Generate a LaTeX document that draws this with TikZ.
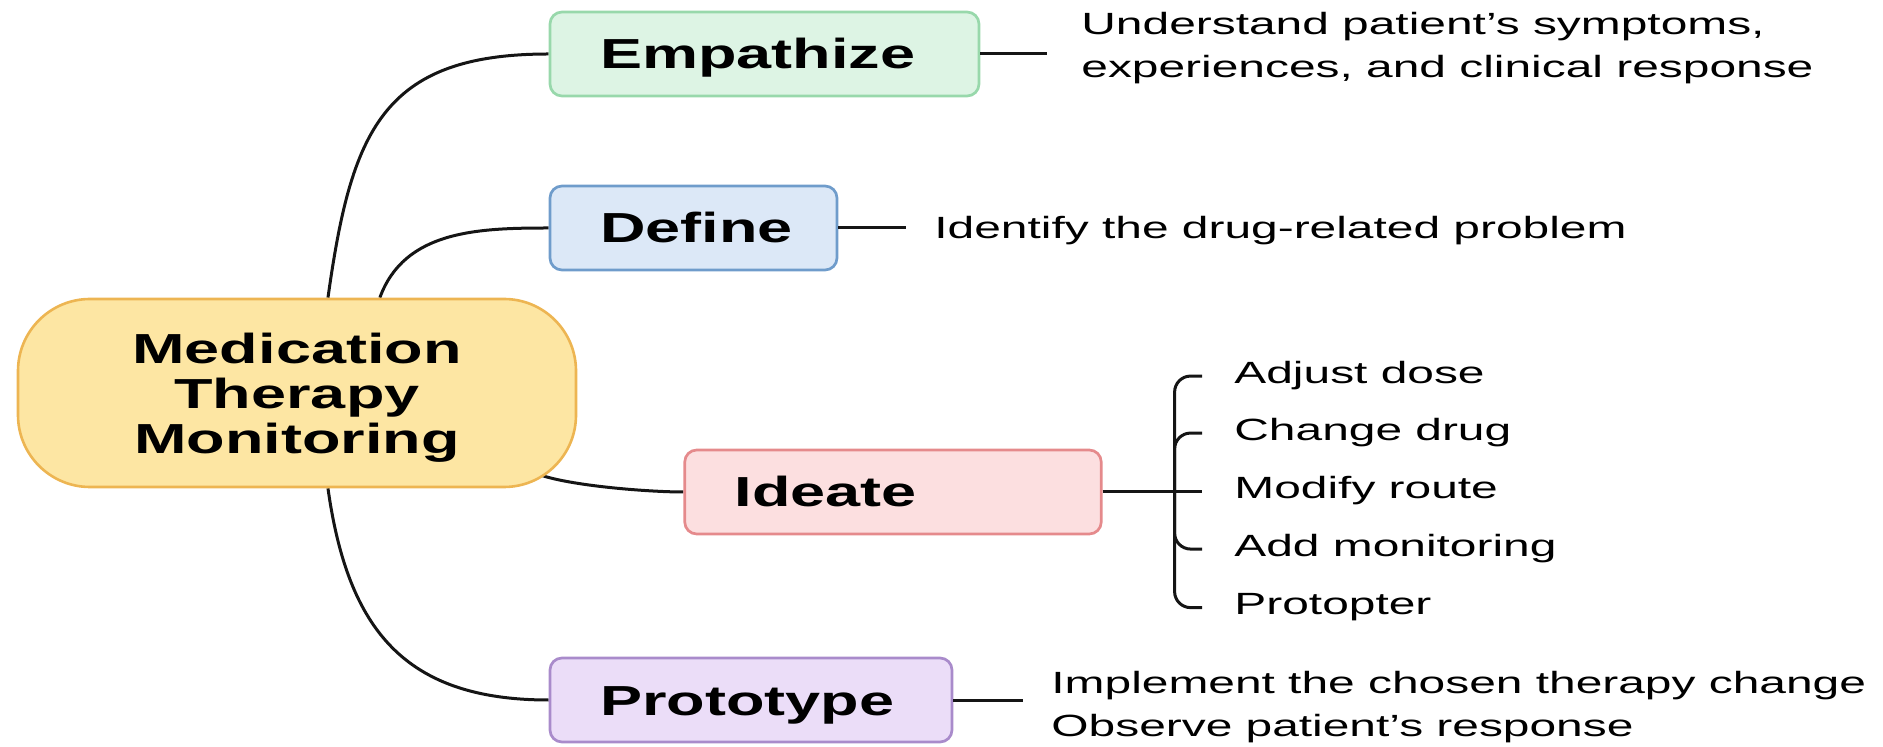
\documentclass[tikz,border=0pt]{standalone}
\usepackage{fontspec}
\usetikzlibrary{positioning, backgrounds}
\newfontfamily\headfont[FakeStretch=1.5]{Liberation Sans}
\newfontfamily\notefont[FakeStretch=1.56]{Liberation Sans}

\definecolor{hubfill}{HTML}{FDE6A3}
\definecolor{hubline}{HTML}{EDB552}
\definecolor{empfill}{HTML}{DDF4E4}
\definecolor{empline}{HTML}{98D8AB}
\definecolor{deffill}{HTML}{DCE8F7}
\definecolor{defline}{HTML}{6F9CCB}
\definecolor{idefill}{HTML}{FCDFE0}
\definecolor{ideline}{HTML}{E58A8C}
\definecolor{profill}{HTML}{EBDDF8}
\definecolor{proline}{HTML}{A98BCB}
\definecolor{linkcol}{HTML}{151515}

\begin{document}
\begin{tikzpicture}[x=0.5pt, y=-0.5pt,
    hub/.style={draw=hubline, fill=hubfill, rounded corners=36pt, line width=1.3pt,
        minimum width=279pt, minimum height=94pt, align=center, text depth=0pt,
        font=\headfont\bfseries\fontsize{21}{22.5}\selectfont},
    stage/.style={draw, rounded corners=6pt, line width=1.35pt, minimum height=42pt,
        inner xsep=25pt, inner ysep=0pt, align=left, text height=16pt, text depth=1pt,
        font=\headfont\bfseries\fontsize{21}{22.5}\selectfont},
    note/.style={inner sep=0pt, align=left, font=\notefont\fontsize{15.35}{21.5}\selectfont},
    link/.style={draw=linkcol, line width=1.5pt}]
    \useasboundingbox (0,0) rectangle (1883,747);

    % Central topic
    \node[hub] (mtm) at (297,393) {Medication\\Therapy\\Monitoring};

    % The four stages
    \node[stage, fill=empfill, draw=empline, text width=164.5pt] (emp) at (764.5,54) {Empathize};
    \node[stage, fill=deffill, draw=defline, text width=93.5pt] (def) at (693.5,228) {Define};
    \node[stage, fill=idefill, draw=ideline, text width=158.25pt] (ide) at (893,492) {Ideate};
    \node[stage, fill=profill, draw=proline, text width=151pt] (pro) at (751,700) {Prototype};

    % Notes next to the stages
    \node[note, anchor=west] (empnote) at (1081,48) {Understand patient’s symptoms,\\experiences, and clinical response};
    \node[note, anchor=base west] (defnote) at (934,239) {Identify the drug-related problem};
    \node[note, anchor=west] (pronote) at (1051,707) {Implement the chosen therapy change\\Observe patient’s response};

    % Ideate options
    \node[note, anchor=base west] (adj) at (1234,384) {Adjust dose};
    \node[note, anchor=base west] (chg) at (1234,441) {Change drug};
    \node[note, anchor=base west] (mod) at (1234,499) {Modify route};
    \node[note, anchor=base west] (mon) at (1234,557) {Add monitoring};
    \node[note, anchor=base west] (ptr) at (1234,615) {Protopter};

    % Branches from the central topic
    \begin{scope}[on background layer]
        \draw[link] (mtm.72) to[out=82, in=180, looseness=1.3] (emp.west);
        \draw[link] (mtm.49) to[out=70, in=180] (def.west);
        \draw[link] ([xshift=-19.5pt, yshift=7pt]mtm.south east) to[out=-20, in=180, looseness=0.6] (ide.west);
        \draw[link] (mtm.-72) to[out=-82, in=180, looseness=1.2] (pro.west);
    \end{scope}

    % Stages to notes
    \draw[link, shorten >=17pt] (emp.east) -- (emp.east -| empnote.west);
    \draw[link, shorten >=14pt] (def.east) -- (def.east -| defnote.west);
    \draw[link, shorten >=14pt] (pro.east) -- (pro.east -| pronote.west);

    % Bracket to the options
    \coordinate[right=36pt of ide.east] (fork);
    \draw[link] (ide.east) -- (fork);
    \draw[link, rounded corners=8pt, shorten >=16pt] (fork) |- (adj.west);
    \draw[link, rounded corners=8pt, shorten >=16pt] (fork) |- (chg.west);
    \draw[link, shorten >=16pt] (fork) -- (fork -| mod.west);
    \draw[link, rounded corners=8pt, shorten >=16pt] (fork) |- (mon.west);
    \draw[link, rounded corners=8pt, shorten >=16pt] (fork) |- (ptr.west);
\end{tikzpicture}
\end{document}
